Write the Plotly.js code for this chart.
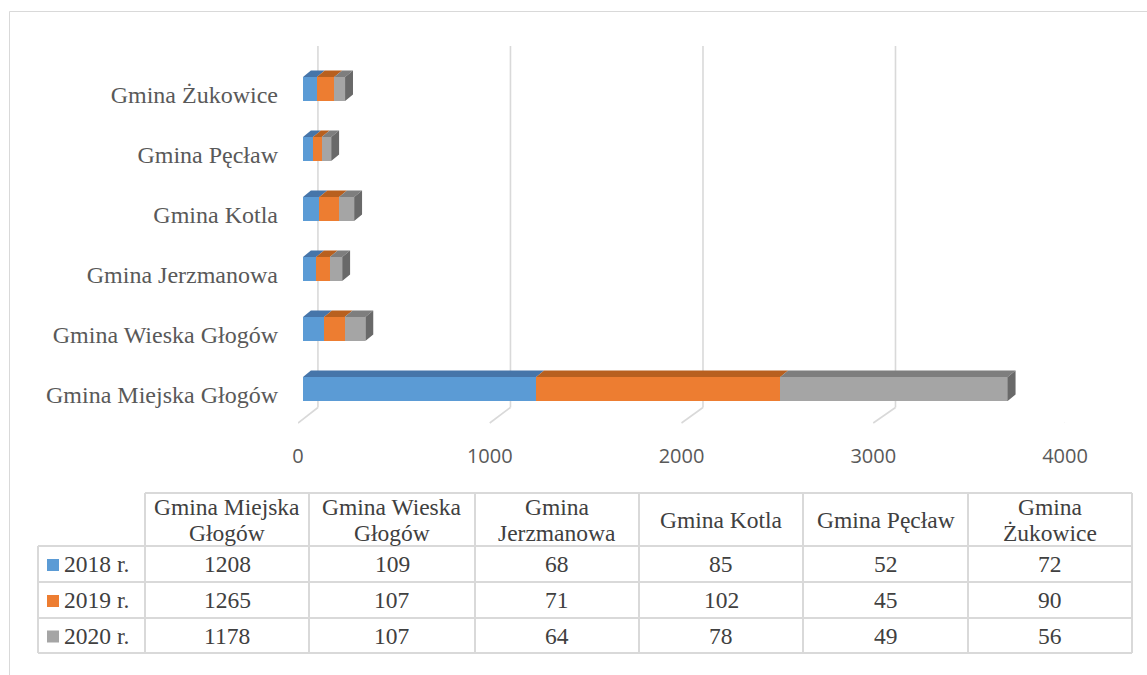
<!DOCTYPE html>
<html>
<head>
<meta charset="utf-8">
<script src="https://cdn.plot.ly/plotly-3.0.1.min.js"></script>
<style>html,body{margin:0;padding:0;background:#fff;}#chart{width:1147px;height:675px;}</style>
</head>
<body>
<div id="chart"></div>
<script>
// ---- data ----
const categories = ["Gmina Miejska Głogów", "Gmina Wieska Głogów", "Gmina Jerzmanowa", "Gmina Kotla", "Gmina Pęcław", "Gmina Żukowice"];
const seriesNames = ["2018 r.", "2019 r.", "2020 r."];
const values2018 = [1208, 109, 68, 85, 52, 72];
const values2019 = [1265, 107, 71, 102, 45, 90];
const values2020 = [1178, 107, 64, 78, 49, 56];
const xTickValues = [0, 1000, 2000, 3000, 4000];
const headerLines = [["Gmina Miejska", "Głogów"], ["Gmina Wieska", "Głogów"], ["Gmina", "Jerzmanowa"], ["Gmina Kotla"], ["Gmina Pęcław"], ["Gmina", "Żukowice"]];

// ---- style ----
const W = 1147, H = 675;
const px = v => v / W;
const py = v => 1 - v / H;
const frontColors = ["#5b9bd5", "#ed7d31", "#a5a5a5"];
const topColors = ["#4675a9", "#b8601f", "#7e7e7e"];
const sideColor = "#696969";
const gridColor = "#d9d9d9";
const serif = "Liberation Serif, Times New Roman, serif";
const seriesValues = [values2018, values2019, values2020];
const idx = categories.map((_, i) => i);

const depthX = 41;     // data units (~8px)
const depthY = 0.108;  // category units (~6.5px)
const halfBar = 0.2;

const traces = [];
seriesValues.forEach((vals, k) => {
  traces.push({
    type: "bar", orientation: "h", name: seriesNames[k],
    x: vals, y: idx, marker: {color: frontColors[k], line: {width: 0}},
    hoverinfo: "skip", showlegend: false
  });
});

// 3D top faces and side face, derived from the stacked values
const cum = categories.map((_, i) => {
  const c = [0];
  seriesValues.forEach(v => c.push(c[c.length - 1] + v[i]));
  return c;
});
seriesValues.forEach((vals, k) => {
  const xs = [], ys = [];
  idx.forEach(i => {
    const s = cum[i][k], e = cum[i][k + 1];
    const t = i + halfBar;
    xs.push(s, s + depthX, e + depthX, e, s, null);
    ys.push(t, t + depthY, t + depthY, t, t, null);
  });
  traces.push({type: "scatter", mode: "lines", x: xs, y: ys, fill: "toself",
    fillcolor: topColors[k], line: {width: 0, color: topColors[k]}, hoverinfo: "skip", showlegend: false});
});
{
  const xs = [], ys = [];
  idx.forEach(i => {
    const e = cum[i][3];
    xs.push(e, e, e + depthX, e + depthX, e, null);
    ys.push(i - halfBar, i + halfBar, i + halfBar + depthY, i - halfBar + depthY, i - halfBar, null);
  });
  traces.push({type: "scatter", mode: "lines", x: xs, y: ys, fill: "toself",
    fillcolor: sideColor, line: {width: 0, color: sideColor}, hoverinfo: "skip", showlegend: false});
}
// empty trace to create the tick-label axis (front floor edge)
traces.push({type: "scatter", mode: "markers", x: [], y: [], xaxis: "x2", yaxis: "y2", hoverinfo: "skip", showlegend: false});

const shapes = [];
// chart border
shapes.push({type: "line", xref: "paper", yref: "paper", x0: px(9.5), x1: 1, y0: py(11.5), y1: py(11.5), line: {color: gridColor, width: 1}, layer: "below"});
shapes.push({type: "line", xref: "paper", yref: "paper", x0: px(9.5), x1: px(9.5), y0: py(11.5), y1: 0, line: {color: gridColor, width: 1}, layer: "below"});
// 3D gridlines: back wall + floor diagonals
xTickValues.forEach(v => {
  const back = v * 1.004 + 104;
  shapes.push({type: "line", xref: "x2", yref: "paper", x0: back, x1: back, y0: py(46), y1: py(407.5), line: {color: gridColor, width: 1.6}, layer: "below"});
  shapes.push({type: "line", xref: "x2", yref: "paper", x0: back, x1: v, y0: py(407.5), y1: py(423), line: {color: gridColor, width: 1.6}, layer: "below"});
});

// ---- data table (drawn from the arrays) ----
const colEdges = [38, 145, 309, 475, 639, 803, 968, 1132];
const rowEdges = [493, 546, 582, 618, 653];
const tLine = {color: gridColor, width: 2};
shapes.push({type: "line", xref: "paper", yref: "paper", x0: px(colEdges[1]), x1: px(colEdges[7]), y0: py(rowEdges[0]), y1: py(rowEdges[0]), line: tLine});
for (let r = 1; r < rowEdges.length; r++) {
  shapes.push({type: "line", xref: "paper", yref: "paper", x0: px(colEdges[0]), x1: px(colEdges[7]), y0: py(rowEdges[r]), y1: py(rowEdges[r]), line: tLine});
}
colEdges.forEach((cx, c) => {
  const top = c === 0 ? rowEdges[1] : rowEdges[0];
  shapes.push({type: "line", xref: "paper", yref: "paper", x0: px(cx), x1: px(cx), y0: py(top), y1: py(rowEdges[4]), line: tLine});
});

const annotations = [];
const tableFont = {family: serif, size: 23.5, color: "#404040"};
headerLines.forEach((lines, c) => {
  const cx = (colEdges[c + 1] + colEdges[c + 2]) / 2;
  const cy = (rowEdges[0] + rowEdges[1]) / 2;
  lines.forEach((ln, j) => {
    const off = lines.length === 1 ? 0 : (j === 0 ? -13 : 13);
    annotations.push({xref: "paper", yref: "paper", x: px(cx), y: py(cy + off), text: ln, showarrow: false,
      xanchor: "center", yanchor: "middle", font: tableFont});
  });
});
seriesValues.forEach((vals, r) => {
  const cy = (rowEdges[r + 1] + rowEdges[r + 2]) / 2;
  shapes.push({type: "rect", xref: "paper", yref: "paper", x0: px(47), x1: px(59), y0: py(cy - 5), y1: py(cy + 7), fillcolor: frontColors[r], line: {width: 0}});
  annotations.push({xref: "paper", yref: "paper", x: px(62), y: py(cy), text: seriesNames[r], showarrow: false,
    xanchor: "left", yanchor: "middle", font: tableFont});
  vals.forEach((v, c) => {
    const cx = (colEdges[c + 1] + colEdges[c + 2]) / 2;
    annotations.push({xref: "paper", yref: "paper", x: px(cx), y: py(cy), text: String(v), showarrow: false,
      xanchor: "center", yanchor: "middle", font: tableFont});
  });
});

const layout = {
  width: W, height: H,
  margin: {l: 0, r: 0, t: 0, b: 0},
  paper_bgcolor: "#ffffff", plot_bgcolor: "rgba(0,0,0,0)",
  barmode: "stack", bargap: 0.6,
  showlegend: false,
  xaxis: {domain: [px(303), px(1075)], range: [0, 4000], visible: false, fixedrange: true},
  yaxis: {domain: [py(419), py(59)], range: [-0.5, 5.5], tickvals: idx, ticktext: categories,
    showgrid: false, zeroline: false, showline: false, ticks: "",
    ticklabelstandoff: 24, ticklabelshift: 6,
    tickfont: {family: serif, size: 24, color: "#595959"}, fixedrange: true},
  xaxis2: {domain: [px(298), px(1065)], range: [0, 4000], anchor: "y2", tickvals: xTickValues,
    showgrid: false, zeroline: false, showline: false, ticks: "",
    tickfont: {family: "Open Sans, sans-serif", size: 20, color: "#595959"}, fixedrange: true},
  yaxis2: {domain: [py(442), py(441)], visible: false, range: [0, 1], fixedrange: true},
  shapes: shapes,
  annotations: annotations
};

Plotly.newPlot("chart", traces, layout, {displayModeBar: false, staticPlot: true});
</script>
</body>
</html>
